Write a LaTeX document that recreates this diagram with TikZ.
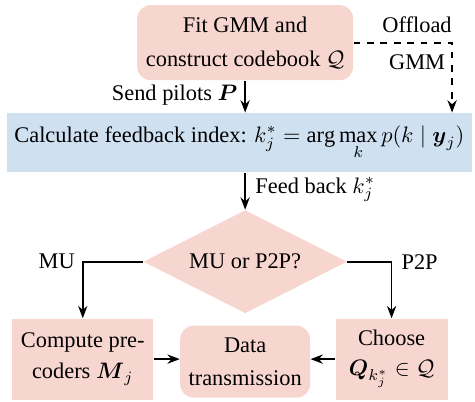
\documentclass[tikz,border=0pt]{standalone}
\usepackage{amsmath,amssymb}
\usepackage{fontspec}
\setmainfont{Liberation Serif}
\usepackage{tikz}
\usetikzlibrary{arrows.meta,shapes.geometric,positioning}
\definecolor{boxpink}{RGB}{248,214,208}
\definecolor{bandblue}{RGB}{207,225,241}

\begin{document}
\begin{tikzpicture}[
        pinkbox/.style={fill=boxpink, align=center, inner sep=0pt},
        arr/.style={thick, -{Stealth[length=5.5pt]}},
        lbl/.style={inner sep=1pt}
    ]
        \useasboundingbox (0,0) rectangle (7.46,-6.30);
        % Boxes
        \node[pinkbox, rounded corners=6pt, minimum width=3.39cm, minimum height=1.18cm] (fit) at (3.85,-0.67)
            {Fit GMM and\\[3pt] construct codebook $\mathcal{Q}$};
        \node[fill=bandblue, minimum width=7.30cm, minimum height=0.93cm, inner sep=0pt] (calc) at (3.76,-2.24)
            {Calculate feedback index: $\displaystyle k_j^* = \arg\max_k p(k \mid \boldsymbol{y}_j)$};
        \node[pinkbox, diamond, aspect=2, minimum width=3.20cm, minimum height=1.62cm] (dec) at (3.85,-4.11)
            {MU or P2P?};
        \node[pinkbox, minimum width=2.21cm, minimum height=1.27cm] (comp) at (1.30,-5.64)
            {Compute pre-\\[2pt] coders $\boldsymbol{M}_j$};
        \node[pinkbox, rounded corners=6pt, minimum width=2.04cm, minimum height=1.13cm] (data) at (3.85,-5.68)
            {Data\\[3pt] transmission};
        \node[pinkbox, minimum width=1.76cm, minimum height=1.27cm] (choose) at (6.15,-5.64)
            {Choose\\[1pt] $\boldsymbol{Q}_{k_j^*} \in \mathcal{Q}$};
        % Turning point of the offload line
        \coordinate (off) at (7.10,0);
        % Connectors
        \draw[arr] (fit) -- (fit |- calc.north);
        \draw[arr, dashed] (fit.east) -| (off |- calc.north);
        \draw[arr] (calc.south -| dec) -- (dec.north);
        \draw[arr] (dec.west) -| (comp.north);
        \draw[arr] (dec.east) -| (choose.north);
        \draw[arr] (comp.east) -- (comp.east -| data.west);
        \draw[arr] (choose.west) -- (choose.west -| data.east);
        % Labels
        \node[lbl, anchor=east] (send) at (3.77,-1.49) {Send pilots $\boldsymbol{P}$};
        \node[lbl] (offl) at (6.55,-0.39) {Offload};
        \node[lbl] (gmm) at (6.55,-0.97) {GMM};
        \node[lbl, anchor=west] (feed) at (3.97,-2.98) {Feed back $k_j^*$};
        \node[lbl] (mu) at (0.89,-4.11) {MU};
        \node[lbl] (p2p) at (6.59,-4.11) {P2P};
    \end{tikzpicture}
\end{document}
